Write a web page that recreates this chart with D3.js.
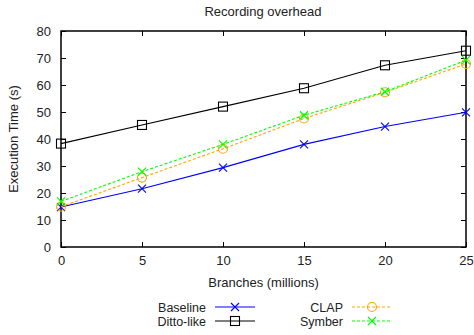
<!DOCTYPE html>
<html>
<head>
<meta charset="utf-8">
<script src="https://cdn.jsdelivr.net/npm/d3@7"></script>
<style>
  body { margin: 0; background: #fff; }
  text { font-family: "Liberation Sans", Arial, sans-serif; fill: #222; }
</style>
</head>
<body>
<svg id="chart" width="474" height="335"></svg>
<script>
// data
const branches = [0, 5, 10, 15, 20, 25];
const baseline = [14.8, 21.6, 29.4, 38.0, 44.6, 49.9];
const dittoLike = [38.3, 45.2, 52.0, 58.8, 67.3, 72.7];
const clap = [14.9, 25.7, 36.4, 47.6, 57.3, 67.8];
const symber = [16.9, 27.9, 38.0, 48.8, 57.5, 69.2];
const xTicks = [0, 5, 10, 15, 20, 25];
const yTicks = [0, 10, 20, 30, 40, 50, 60, 70, 80];

const series = [
    { name: "Baseline", values: baseline, color: "#0000ff", dash: null, marker: "x" },
    { name: "Ditto-like", values: dittoLike, color: "#000000", dash: null, marker: "square" },
    { name: "CLAP", values: clap, color: "#ffa500", dash: "3,2", marker: "circle" },
    { name: "Symber", values: symber, color: "#00ff00", dash: "3,2", marker: "x" }
];

const margin = { top: 31, right: 8, bottom: 88, left: 61 };
const width = 474 - margin.left - margin.right;
const height = 335 - margin.top - margin.bottom;

const svg = d3.select("#chart");
const g = svg.append("g")
    .attr("transform", `translate(${margin.left}, ${margin.top})`);

const x = d3.scaleLinear().domain([0, 25]).range([0, width]);
const y = d3.scaleLinear().domain([0, 80]).range([height, 0]);

// axes, ticks pointing inward (gnuplot style, mirrored)
const tickLen = 5;
const styleAxis = sel => {
    sel.select(".domain").remove();
    sel.selectAll("line").attr("stroke", "#000");
    sel.selectAll("text").style("font-size", "13px").attr("fill", "#222");
};
g.append("g")
    .attr("transform", `translate(0, ${height})`)
    .call(d3.axisBottom(x).tickValues(xTicks).tickSize(-tickLen).tickPadding(9))
    .call(styleAxis);
g.append("g")
    .call(d3.axisTop(x).tickValues(xTicks).tickSize(-tickLen).tickFormat(""))
    .call(styleAxis);
g.append("g")
    .call(d3.axisLeft(y).tickValues(yTicks).tickSize(-tickLen).tickPadding(10))
    .call(styleAxis);
g.append("g")
    .attr("transform", `translate(${width}, 0)`)
    .call(d3.axisRight(y).tickValues(yTicks).tickSize(-tickLen).tickFormat(""))
    .call(styleAxis);

g.append("rect")
    .attr("width", width).attr("height", height)
    .attr("fill", "none").attr("stroke", "#000").attr("stroke-width", 1.5);

function drawMarker(sel, type, color, cx, cy) {
    if (type === "x") {
        const s = 4;
        sel.append("path")
            .attr("d", `M${cx - s},${cy - s}L${cx + s},${cy + s}M${cx - s},${cy + s}L${cx + s},${cy - s}`)
            .attr("stroke", color).attr("stroke-width", 1.1).attr("fill", "none");
    } else if (type === "square") {
        sel.append("rect")
            .attr("x", cx - 4.5).attr("y", cy - 4.5).attr("width", 9).attr("height", 9)
            .attr("stroke", color).attr("stroke-width", 1.1).attr("fill", "none");
    } else {
        sel.append("circle")
            .attr("cx", cx).attr("cy", cy).attr("r", 4.5)
            .attr("stroke", color).attr("stroke-width", 1.1).attr("fill", "none");
    }
}

const line = d3.line()
    .x((d, i) => x(branches[i]))
    .y(d => y(d));

// draw in gnuplot order
series.forEach(s => {
    g.append("path")
        .datum(s.values)
        .attr("fill", "none")
        .attr("stroke", s.color)
        .attr("stroke-width", 1.1)
        .attr("stroke-dasharray", s.dash)
        .attr("d", line);
    const mg = g.append("g");
    s.values.forEach((v, i) => drawMarker(mg, s.marker, s.color, x(branches[i]), y(v)));
});

// title and axis labels
svg.append("text")
    .attr("x", 263).attr("y", 15.5)
    .attr("text-anchor", "middle")
    .style("font-size", "13px")
    .text("Recording overhead");

svg.append("text")
    .attr("x", margin.left + width / 2).attr("y", 287)
    .attr("text-anchor", "middle")
    .style("font-size", "13px")
    .text("Branches (millions)");

svg.append("text")
    .attr("transform", `translate(18, ${margin.top + height / 2}) rotate(-90)`)
    .attr("text-anchor", "middle")
    .style("font-size", "13px")
    .text("Execution Time (s)");

// legend, two columns
const legendPos = [
    { tx: 206, ly: 307 },
    { tx: 206, ly: 321 },
    { tx: 343, ly: 307 },
    { tx: 343, ly: 321 }
];
series.forEach((s, i) => {
    const p = legendPos[i];
    svg.append("text")
        .attr("x", p.tx).attr("y", p.ly + 4.5)
        .attr("text-anchor", "end")
        .style("font-size", "12.5px")
        .text(s.name);
    svg.append("line")
        .attr("x1", p.tx + 9).attr("x2", p.tx + 49)
        .attr("y1", p.ly).attr("y2", p.ly)
        .attr("stroke", s.color).attr("stroke-width", 1.1)
        .attr("stroke-dasharray", s.dash);
    drawMarker(svg, s.marker, s.color, p.tx + 29, p.ly);
});
</script>
</body>
</html>
